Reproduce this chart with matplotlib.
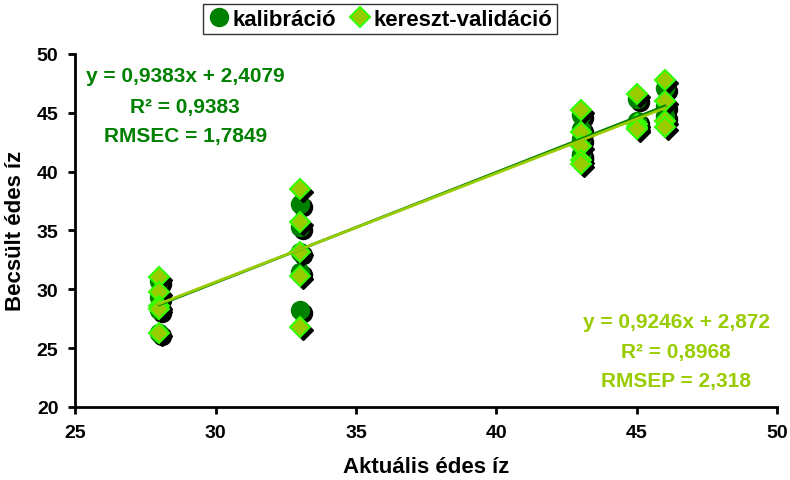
from matplotlib import pyplot as plt
import matplotlib.transforms as mtransforms
import numpy as np

# kalibráció
cal_x = [28, 28, 28, 28, 28, 33, 33, 33, 33, 33, 43, 43, 43, 43, 43, 45, 45, 45, 46, 46, 46]
cal_y = [30.7, 29.3, 28.5, 28.2, 26.3, 37.2, 35.3, 33.2, 31.5, 28.2,
         44.8, 43.6, 42.8, 41.5, 41.3, 46.2, 44.3, 44.0, 47.1, 45.6, 44.7]
# kereszt-validáció
val_x = [28, 28, 28, 28, 28, 33, 33, 33, 33, 33, 43, 43, 43, 43, 43, 45, 45, 45, 45, 46, 46, 46, 46]
val_y = [31.0, 29.8, 28.6, 28.3, 26.3, 38.5, 35.7, 33.2, 31.1, 26.8,
         45.2, 43.4, 42.2, 41.0, 40.6, 46.6, 44.0, 43.8, 43.6, 47.8, 46.0, 44.3, 43.8]

cal_fit = (0.9383, 2.4079)
val_fit = (0.9246, 2.872)
cal_text = ["y = 0,9383x + 2,4079", "R² = 0,9383", "RMSEC = 1,7849"]
val_text = ["y = 0,9246x + 2,872", "R² = 0,8968", "RMSEP = 2,318"]

dark = "#008000"
light = "#99CC00"

plt.rcParams['font.family'] = ['Liberation Sans', 'DejaVu Sans']
plt.rcParams['font.weight'] = 'bold'

fig = plt.figure(figsize=(7.9, 4.81), dpi=100)
ax = fig.add_axes([0.095, 0.152, 0.889, 0.734])

shadow = mtransforms.offset_copy(ax.transData, fig=fig, x=3, y=-3, units='dots')

ax.plot(cal_x, cal_y, 'o', ms=13, color='black', mec='black', transform=shadow, zorder=2)
ax.plot(cal_x, cal_y, 'o', ms=13, color=dark, mec=dark, zorder=3, label="kalibráció")
ax.plot(val_x, val_y, 'D', ms=10, color='black', mec='black', transform=shadow, zorder=4)
ax.plot(val_x, val_y, 'D', ms=10, color=light, mec='#33FF00', mew=1.5, zorder=5,
        label="kereszt-validáció")

xl = np.array([min(cal_x), max(cal_x)])
ax.plot(xl, cal_fit[0] * xl + cal_fit[1], color=dark, lw=2, zorder=6)
xl = np.array([min(val_x), max(val_x)])
ax.plot(xl, val_fit[0] * xl + val_fit[1], color=light, lw=2, zorder=6)

ax.set_xlim(25, 50)
ax.set_ylim(20, 50)
ax.set_xticks(range(25, 51, 5))
ax.set_yticks(range(20, 51, 5))
for s in ['top', 'right']:
    ax.spines[s].set_visible(False)
for s in ['left', 'bottom']:
    ax.spines[s].set_linewidth(2)
ax.tick_params(direction='out', width=2, length=5, labelsize=14, pad=7)
for lab in ax.get_xticklabels() + ax.get_yticklabels():
    lab.set_fontweight('bold')

ax.set_xlabel("Aktuális édes íz", fontsize=16, fontweight='bold', labelpad=11)
ax.set_ylabel("Becsült édes íz", fontsize=16, fontweight='bold', labelpad=8)

for i, t in enumerate(cal_text):
    ax.text(0.157, [0.938, 0.852, 0.768][i], t, transform=ax.transAxes, ha='center',
            va='center', fontsize=15, fontweight='bold', color=dark)
for i, t in enumerate(val_text):
    ax.text(0.856, [0.241, 0.156, 0.076][i], t, transform=ax.transAxes, ha='center',
            va='center', fontsize=15, fontweight='bold', color=light)

leg = fig.legend(loc='center', bbox_to_anchor=(0.481, 0.958), ncol=2, fontsize=16,
                 frameon=True, fancybox=False, edgecolor='black', handletextpad=0.1,
                 columnspacing=0.6, handlelength=1.0, borderpad=0.2, borderaxespad=0)
leg.get_frame().set_linewidth(1)
for t in leg.get_texts():
    t.set_fontweight('bold')

plt.savefig('out.png', dpi=100)
